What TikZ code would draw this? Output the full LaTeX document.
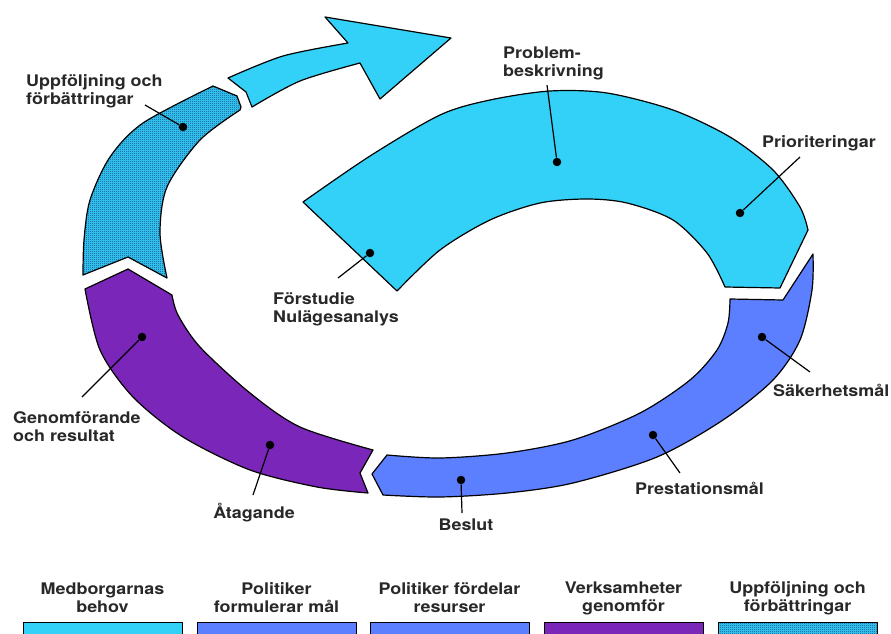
\documentclass[tikz,border=0pt]{standalone}
\usepackage{fontspec}
\setmainfont{TeX Gyre Heros}[FakeStretch=1.12]
\usetikzlibrary{patterns}

\definecolor{cyanseg}{RGB}{51,209,247}
\definecolor{blueseg}{RGB}{91,127,255}
\definecolor{purpseg}{RGB}{122,38,184}
\definecolor{hatchdots}{RGB}{28,66,140}
\definecolor{txt}{RGB}{40,40,40}

% fine checker dither for the follow-up part
\pgfdeclarepatternformonly{checker}{\pgfqpoint{0pt}{0pt}}{\pgfqpoint{2pt}{2pt}}{\pgfqpoint{2pt}{2pt}}{
	\pgfpathrectangle{\pgfqpoint{0pt}{0pt}}{\pgfqpoint{1pt}{1pt}}
	\pgfpathrectangle{\pgfqpoint{1pt}{1pt}}{\pgfqpoint{1pt}{1pt}}
	\pgfusepath{fill}}

\tikzset{
	segment/.style={draw=black, line width=1.2pt, line join=round},
	cyanfill/.style={fill=cyanseg},
	bluefill/.style={fill=blueseg},
	purpfill/.style={fill=purpseg},
	hatched/.style={preaction={fill=cyanseg}, pattern=checker, pattern color=hatchdots},
	dot/.style={circle, fill=black, inner sep=0pt, minimum size=8.5pt},
	leader/.style={line width=1.2pt},
	lbl/.style={font=\bfseries\fontsize{16}{18}\selectfont, text=txt, inner sep=0pt, align=left},
}

\begin{document}
\begin{tikzpicture}[x=1pt,y=-1pt]
	\useasboundingbox (0,0) rectangle (891,634);
	\fill[white] (0,0) rectangle (891,634);
	
	% arrow at the top
	\path[segment, cyanfill] plot[smooth] coordinates {(228,78) (283,56) (348,43)} -- (325,17) -- (451,38) -- (380,99) -- (360,63)
		-- plot[smooth] coordinates {(360,63) (300,81) (252,107)} -- (246,92) -- cycle;
	
	% big cyan part
	\path[segment, cyanfill] plot[smooth] coordinates {(303,202) (370,156) (440,115) (490,100) (550,91) (607,93) (673,110) (730,137) (773,170) (800,207) (808,230)}
		-- (780,288) -- (725,287)
		-- plot[smooth] coordinates {(725,287) (707,253) (673,220) (627,203) (587,199) (540,203) (490,220) (440,250) (397,291)} -- cycle;
	
	% blue part
	\path[segment, bluefill] (813,254) -- (783,300) -- (730,299)
		-- plot[smooth] coordinates {(730,299) (728,323) (717,350) (690,380) (640,413) (573,440) (507,453) (440,458) (387,455)}
		-- (372,474) -- (383,495)
		-- plot[smooth] coordinates {(383,495) (440,497) (507,493) (573,483) (657,457) (723,420) (773,380) (800,340) (812,290) (813,254)} -- cycle;
	
	% purple part
	\path[segment, purpfill] (85,289) -- (128,269) -- (172,295)
		-- plot[smooth] coordinates {(172,295) (178,315) (200,347) (250,393) (300,427) (373,450)}
		-- (360,473) -- (368,493)
		-- plot[smooth] coordinates {(368,493) (317,487) (250,470) (183,437) (133,397) (100,350) (85,289)} -- cycle;
	
	% hatched part
	\path[segment, hatched] (83,275) -- (128,257) -- (167,278)
		-- plot[smooth] coordinates {(167,278) (160,233) (167,187) (200,140) (240,110)}
		-- (241,107) -- (237,96)
		-- plot[smooth] coordinates {(213,86) (143,123) (110,157) (90,200) (84,240) (83,275)} -- cycle;
	
	% dots, leaders and labels
	\node[dot] (uppdot) at (183,127) {};
	\coordinate (uppend) at (145,105);
	\node[lbl, anchor=west] (upp) at (26,91) {Uppföljning och\\förbättringar};
	\draw[leader] (uppdot) -- (uppend);
	
	\node[dot] (probdot) at (557,162) {};
	\coordinate (probend) at (547,85);
	\node[lbl, anchor=west] (prob) at (503,63) {Problem-\\beskrivning};
	\draw[leader] (probdot) -- (probend);
	
	\node[dot] (priodot) at (740,213) {};
	\coordinate (prioend) at (800,157);
	\node[lbl, anchor=west] (prio) at (762,143) {Prioriteringar};
	\draw[leader] (priodot) -- (prioend);
	
	\node[dot] (forsdot) at (370,253) {};
	\coordinate (forsend) at (338,278);
	\node[lbl, anchor=west] (fors) at (273,309) {Förstudie\\Nulägesanalys};
	\draw[leader] (forsdot) -- (forsend);
	
	\node[dot] (sakdot) at (762,337) {};
	\coordinate (sakend) at (810,372);
	\node[lbl, anchor=west] (sak) at (773,390) {Säkerhetsmål};
	\draw[leader] (sakdot) -- (sakend);
	
	\node[dot] (prestdot) at (653,435) {};
	\coordinate (prestend) at (680,473);
	\node[lbl, anchor=west] (prest) at (635,488) {Prestationsmål};
	\draw[leader] (prestdot) -- (prestend);
	
	\node[dot] (besdot) at (461,480) {};
	\coordinate (besend) at (462,513);
	\node[lbl] (bes) at (466,525) {Beslut};
	\draw[leader] (besdot) -- (besend);
	
	\node[dot] (atadot) at (270,445) {};
	\coordinate (ataend) at (253,495);
	\node[lbl] (ata) at (254,513) {Åtagande};
	\draw[leader] (atadot) -- (ataend);
	
	\node[dot] (gendot) at (142,337) {};
	\coordinate (genend) at (82,397);
	\node[lbl, anchor=west] (gen) at (13,427) {Genomförande\\och resultat};
	\draw[leader] (gendot) -- (genend);
	
	% legend at the bottom
	\foreach \x/\sty/\txt [count=\i] in {23/cyanfill/{Medborgarnas\\behov}, 197/bluefill/{Politiker\\formulerar mål},
		370/bluefill/{Politiker fördelar\\resurser}, 544/purpfill/{Verksamheter\\genomför}, 718/hatched/{Uppföljning och\\förbättringar}}
	{
		\node[segment, \sty, line width=1pt, minimum width=159pt, minimum height=24pt, anchor=north west] (box\i) at (\x,622) {};
		\node[lbl, align=center] (cap\i) at (\x+79.5,598) {\txt};
	}
\end{tikzpicture}
\end{document}
